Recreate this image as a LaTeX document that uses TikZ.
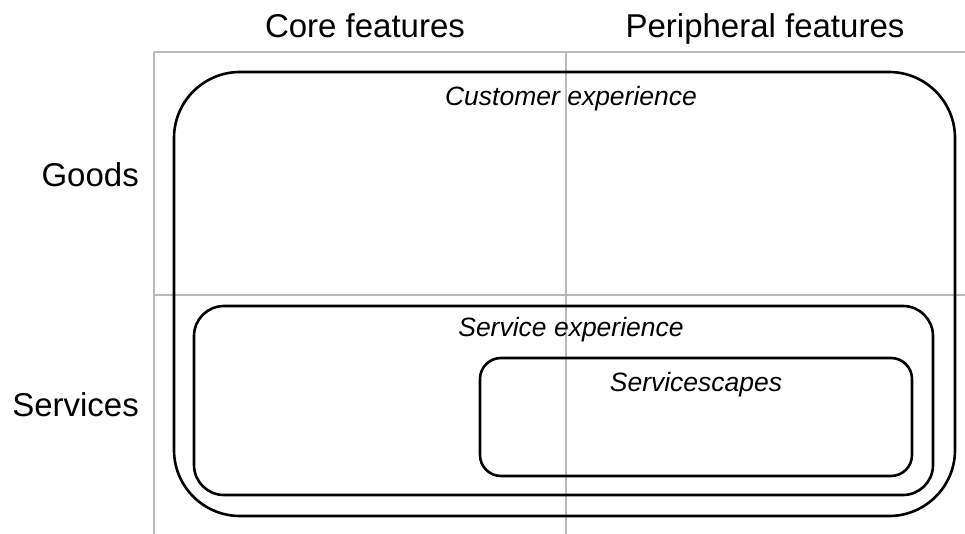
\documentclass[tikz,border=0pt]{standalone}
\usepackage{fontspec}
\setmainfont{Liberation Sans}
\begin{document}
\begin{tikzpicture}[x=1pt,y=-1pt,
  gridline/.style={draw=black!27, line width=1.2pt},
  frame/.style={draw=black, line width=2.6pt, rectangle, inner sep=0pt, fill=none},
  head/.style={font=\fontsize{33}{39}\selectfont, inner sep=0pt, anchor=base},
  tag/.style={font=\fontsize{26.5}{31}\selectfont\itshape, inner sep=0pt, anchor=base}]
  % canvas
  \path[use as bounding box, fill=white] (0,0) rectangle (965,534);

  % quadrant grid
  \draw[gridline] (154,52) -- (965,52);
  \draw[gridline] (154,295) -- (965,295);
  \draw[gridline] (154,52) -- (154,534);
  \draw[gridline] (566,52) -- (566,534);

  % column and row headings
  \node[head] (core) at (365,38) {Core features};
  \node[head] (peri) at (765,38) {Peripheral features};
  \node[head, anchor=base east] (goods) at (139,187) {Goods};
  \node[head, anchor=base east] (serv) at (139,416) {Services};

  % nested experience frames
  \node[frame, minimum width=781, minimum height=444, rounded corners=66] (outer) at (564.5,294) {};
  \node[frame, minimum width=739, minimum height=189, rounded corners=30] (service) at (563.5,400.5) {};
  \node[frame, minimum width=432, minimum height=118, rounded corners=21] (scapes) at (696,417) {};

  % frame labels
  \node[tag] (outerlbl) at (571,106) {Customer experience};
  \node[tag] (servicelbl) at (571,336) {Service experience};
  \node[tag] (scapeslbl) at (696,391) {Servicescapes};
\end{tikzpicture}
\end{document}
